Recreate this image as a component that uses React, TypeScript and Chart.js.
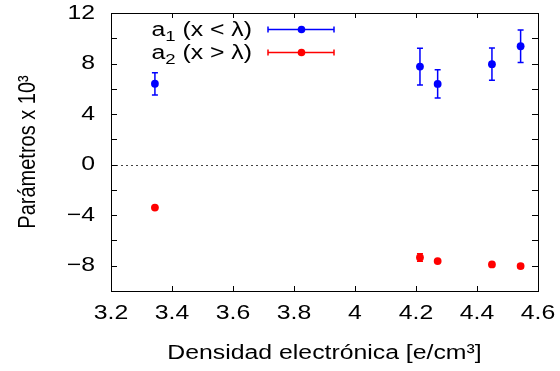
import React, { useEffect, useRef } from "react";
import { Chart, registerables } from "chart.js";

Chart.register(...registerables);

const densidad = [3.344, 4.213, 4.271, 4.449, 4.543];
const a1Vals = [6.4, 7.76, 6.39, 7.95, 9.37];
const a1Err = [0.88, 1.46, 1.12, 1.28, 1.29];
const a2Vals = [-3.4, -7.35, -7.63, -7.9, -8.03];
const a2Err = [0.1, 0.3, 0.1, 0.1, 0.15];

const xTitle = "Densidad electrónica [e/cm³]";
const yTitle = "Parámetros x 10³";
const legendRows = [
  { base: "a", sub: "1", rest: " (x < λ)", color: "#0000ff" },
  { base: "a", sub: "2", rest: " (x > λ)", color: "#ff0000" },
];

const FONT = "'Liberation Sans', Arial, Helvetica, sans-serif";
const FS = 20;
const SX = 1.24;

function patchContext(ctx: any) {
  if (ctx.__patched) return;
  ctx.__patched = true;
  const orig = ctx.fillText;
  ctx.fillText = function (text: string, x: number, y: number) {
    const m = this.getTransform();
    const rotated = Math.abs(m.b) > 0.5;
    this.save();
    this.translate(x, y);
    if (rotated) this.scale(1, SX);
    else this.scale(SX, 1);
    orig.call(this, text, 0, 0);
    this.restore();
  };
}

const errPlugin = {
  id: "errbars",
  beforeDatasetsDraw(chart: any) {
    const ctx = chart.ctx;
    const xs = chart.scales.x;
    const ys = chart.scales.y;
    const area = chart.chartArea;
    ctx.save();
    ctx.strokeStyle = "#444";
    ctx.lineWidth = 1;
    ctx.setLineDash([2, 3]);
    const y0 = Math.round(ys.getPixelForValue(0)) + 0.5;
    ctx.beginPath();
    ctx.moveTo(area.left, y0);
    ctx.lineTo(area.right, y0);
    ctx.stroke();
    ctx.setLineDash([]);
    const sets = [
      { v: a1Vals, e: a1Err, c: "#0000ff" },
      { v: a2Vals, e: a2Err, c: "#ff0000" },
    ];
    ctx.lineWidth = 1.5;
    for (const s of sets) {
      ctx.strokeStyle = s.c;
      for (let i = 0; i < densidad.length; i++) {
        const x = xs.getPixelForValue(densidad[i]);
        const yt = ys.getPixelForValue(s.v[i] + s.e[i]);
        const yb = ys.getPixelForValue(s.v[i] - s.e[i]);
        ctx.beginPath();
        ctx.moveTo(x, yt);
        ctx.lineTo(x, yb);
        ctx.moveTo(x - 3, yt);
        ctx.lineTo(x + 3, yt);
        ctx.moveTo(x - 3, yb);
        ctx.lineTo(x + 3, yb);
        ctx.stroke();
      }
    }
    ctx.restore();
  },
  afterDraw(chart: any) {
    const ctx = chart.ctx;
    const xs = chart.scales.x;
    const ys = chart.scales.y;
    const a = chart.chartArea;
    ctx.save();
    ctx.strokeStyle = "#000";
    ctx.lineWidth = 1;
    ctx.strokeRect(Math.round(a.left) + 0.5, Math.round(a.top) + 0.5, Math.round(a.right - a.left), Math.round(a.bottom - a.top));
    ctx.beginPath();
    for (const t of ys.ticks) {
      const y = Math.round(ys.getPixelForValue(t.value)) + 0.5;
      ctx.moveTo(a.left, y);
      ctx.lineTo(a.left + 6, y);
      ctx.moveTo(a.right, y);
      ctx.lineTo(a.right - 6, y);
    }
    for (const t of xs.ticks) {
      const x = Math.round(xs.getPixelForValue(t.value)) + 0.5;
      ctx.moveTo(x, a.bottom);
      ctx.lineTo(x, a.bottom - 5);
      ctx.moveTo(x, a.top);
      ctx.lineTo(x, a.top + 5);
    }
    ctx.stroke();
    // legend
    const right = 252;
    const baselines = [35.5, 58.5];
    const SUBFS = 15;
    legendRows.forEach((r, i) => {
      const by = baselines[i];
      ctx.fillStyle = "#000";
      ctx.textBaseline = "alphabetic";
      ctx.textAlign = "left";
      ctx.font = `${FS}px ${FONT}`;
      const wA = ctx.measureText(r.base).width * SX;
      const wR = ctx.measureText(r.rest).width * SX;
      ctx.font = `${SUBFS}px ${FONT}`;
      const wS = ctx.measureText(r.sub).width * SX;
      let x = right - (wA + wS + wR);
      ctx.font = `${FS}px ${FONT}`;
      ctx.fillText(r.base, x, by);
      x += wA;
      ctx.font = `${SUBFS}px ${FONT}`;
      ctx.fillText(r.sub, x, by + 5);
      x += wS;
      ctx.font = `${FS}px ${FONT}`;
      ctx.fillText(r.rest, x, by);
      const ly = by - 6;
      ctx.strokeStyle = r.color;
      ctx.fillStyle = r.color;
      ctx.lineWidth = 1.5;
      ctx.beginPath();
      ctx.moveTo(268, ly);
      ctx.lineTo(334, ly);
      ctx.moveTo(268, ly - 3);
      ctx.lineTo(268, ly + 3);
      ctx.moveTo(334, ly - 3);
      ctx.lineTo(334, ly + 3);
      ctx.stroke();
      ctx.beginPath();
      ctx.arc(301.5, ly, 3.8, 0, Math.PI * 2);
      ctx.fill();
    });
    ctx.restore();
  },
};

export default function App() {
  const ref = useRef<HTMLCanvasElement | null>(null);
  useEffect(() => {
    if (!ref.current) return;
    const c2d = ref.current.getContext("2d");
    patchContext(c2d);
    const chart = new Chart(ref.current, {
      type: "scatter",
      data: {
        datasets: [
          {
            label: "a1",
            data: densidad.map((x, i) => ({ x, y: a1Vals[i] })),
            backgroundColor: "#0000ff",
            borderColor: "#0000ff",
            pointRadius: 3.9,
            borderWidth: 0,
          },
          {
            label: "a2",
            data: densidad.map((x, i) => ({ x, y: a2Vals[i] })),
            backgroundColor: "#ff0000",
            borderColor: "#ff0000",
            pointRadius: 3.9,
            borderWidth: 0,
          },
        ],
      },
      options: {
        animation: false,
        responsive: false,
        devicePixelRatio: 1,
        layout: { padding: { top: 13, right: 22, left: 0, bottom: 0 } },
        plugins: { legend: { display: false }, tooltip: { enabled: false } },
        scales: {
          x: {
            type: "linear",
            min: 3.2,
            max: 4.6,
            grid: { display: false, drawTicks: false },
            border: { display: false },
            ticks: {
              stepSize: 0.2,
              padding: 10,
              color: "#000",
              font: { family: FONT, size: FS },
              maxRotation: 0,
              autoSkip: false,
              callback: (v: any) => String(Number(Number(v).toFixed(1))),
            },
            title: {
              display: true,
              text: xTitle,
              color: "#000",
              font: { family: FONT, size: FS },
              padding: { top: 0, bottom: 6 },
            },
            afterFit: (s: any) => {
              s.height = 80;
              s.paddingLeft = 0;
              s.paddingRight = 0;
            },
          },
          y: {
            type: "linear",
            min: -10,
            max: 12,
            grid: { display: false, drawTicks: false },
            border: { display: false },
            ticks: {
              stepSize: 2,
              padding: 16,
              color: "#000",
              font: { family: FONT, size: FS },
              autoSkip: false,
              callback: (v: any) => {
                const n = Math.round(Number(v));
                if (n % 4 !== 0) return "";
                return n < 0 ? "−" + Math.abs(n) : String(n);
              },
            },
            title: {
              display: true,
              text: yTitle,
              color: "#000",
              font: { family: FONT, size: FS },
              padding: { top: 16, bottom: 0 },
            },
            afterFit: (s: any) => {
              s.width = 111;
              s.paddingTop = 0;
              s.paddingBottom = 0;
            },
          },
        },
      },
      plugins: [errPlugin],
    });
    return () => chart.destroy();
  }, []);
  return (
    <div style={{ position: "fixed", left: 0, top: 0, width: 560, height: 371, background: "#fff" }}>
      <canvas ref={ref} width={560} height={371} />
    </div>
  );
}
